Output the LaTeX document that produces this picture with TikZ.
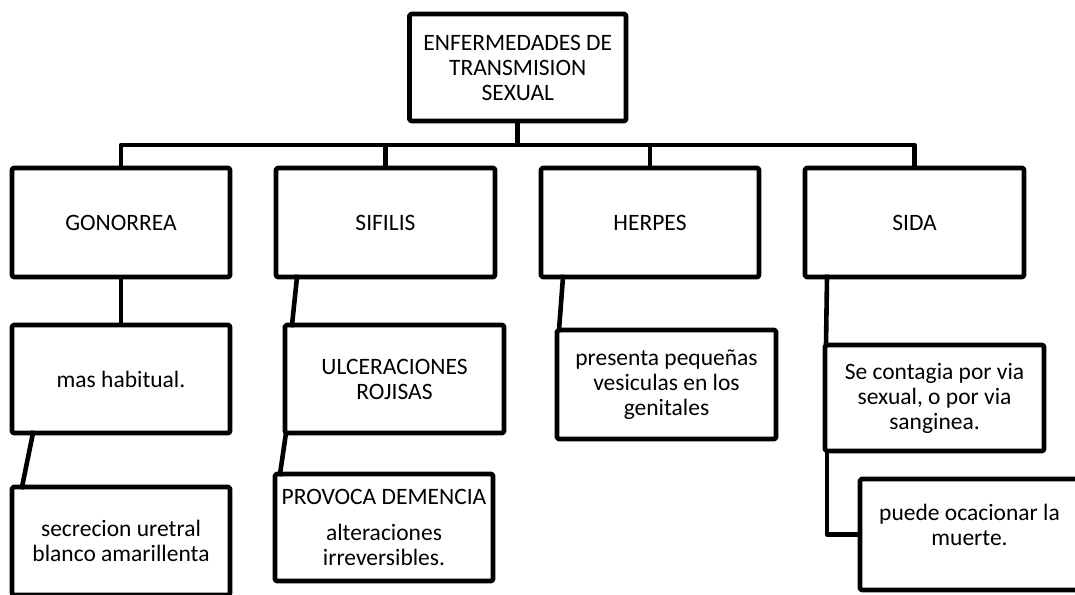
\documentclass[tikz,border=0pt]{standalone}
\usepackage{fontspec}
\setmainfont{Carlito}
\begin{document}
\begin{tikzpicture}[x=1pt,y=-1pt,
  box/.style={draw=black, line width=4.6pt, line join=round, rounded corners=1.5pt,
    outer sep=0pt, inner sep=0pt, align=center, anchor=center,
    font=\fontsize{23.5}{25}\selectfont},
  link/.style={draw=black, line width=4.6pt, line cap=rect, line join=round},
  txt/.style={inner sep=0pt, align=center, font=\fontsize{23.5}{25}\selectfont}]
\useasboundingbox (0,0) rectangle (1075,594);
\fill[white] (0,0) rectangle (1075,594);
\clip (0,0) rectangle (1075,594);

% level 0
\node[box, minimum width=216.5pt, minimum height=107pt] (root) at (517.75,67.5)
  {ENFERMEDADES DE\\TRANSMISION\\SEXUAL};

% level 1
\node[box, minimum width=218pt, minimum height=109pt] (gon) at (121,222.5) {GONORREA};
\node[box, minimum width=219pt, minimum height=109pt] (sif) at (385.5,222.5) {SIFILIS};
\node[box, minimum width=218pt, minimum height=109pt] (her) at (650,222.5) {HERPES};
\node[box, minimum width=219pt, minimum height=109pt] (sida) at (914.5,222.5) {SIDA};

% level 2 and 3
\node[box, minimum width=218pt, minimum height=108pt] (mas) at (121,379) {mas habitual.};
\node[box, minimum width=218pt, minimum height=108pt] (sec) at (121,541)
  {secrecion uretral\\blanco amarillenta};
\node[box, minimum width=219pt, minimum height=108pt] (ulc) at (394.5,379)
  {ULCERACIONES\\ROJISAS};
\node[box, minimum width=218pt, minimum height=107pt] (pro) at (384,527.5)
  {PROVOCA DEMENCIA\\[11pt]alteraciones\\irreversibles.};
\node[box, minimum width=219pt, minimum height=109pt] (hv) at (666.5,384.5)
  {presenta pequeñas\\vesiculas en los\\genitales};
\node[box, minimum width=219pt, minimum height=106pt] (sc) at (934.5,398)
  {Se contagia por via\\sexual, o por via\\sanginea.};
\node[box, minimum width=219pt, minimum height=111pt] (pm) at (969.5,534.5) {};
\node[txt] (pmtext) at (969.5,524.5) {puede ocacionar la\\muerte.};

% connectors
\coordinate (bar) at (root.south |- 0,145);
\draw[link] (root.south) -- (bar);
\draw[link] (gon.north) |- (bar) -| (sida.north);
\draw[link] (sif.north) -- (sif.north |- bar);
\draw[link] (her.north) -- (her.north |- bar);
\draw[link] (gon.south) -- (mas.north);
\draw[link] ([xshift=21pt]mas.south west) -- ([xshift=10pt]sec.north west);
\draw[link] ([xshift=21pt]sif.south west) -- ([xshift=7pt]ulc.north west);
\draw[link] ([xshift=1pt]ulc.south west) -- ([xshift=5pt]pro.north west);
\draw[link] ([xshift=22pt]her.south west) -- ([xshift=2pt]hv.north west);
\draw[link] ([xshift=22pt]sida.south west) -- ([xshift=1pt]sc.north west);
\draw[link] ([xshift=2pt]sc.south west) |- (pm.west);
\end{tikzpicture}
\end{document}
